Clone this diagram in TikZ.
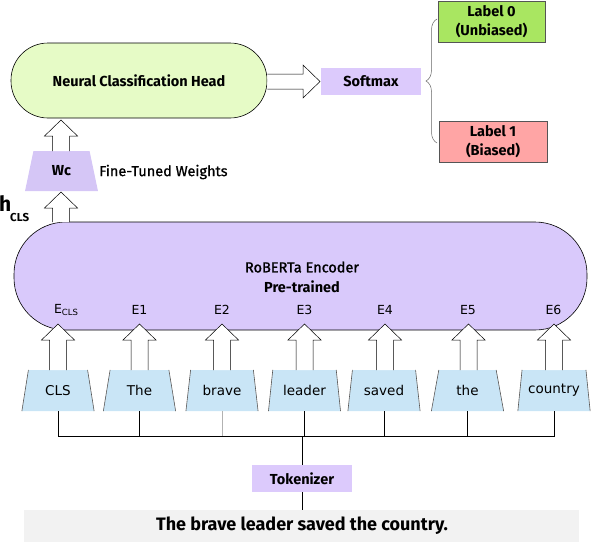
\documentclass[tikz,border=0pt]{standalone}
\usepackage{fontspec}
\setmainfont{Fira Sans}
\newfontfamily\tokfont{DejaVu Sans}
\usetikzlibrary{shapes.geometric,decorations.pathreplacing,calc}
\definecolor{headgreen}{HTML}{E6FBC6}
\definecolor{lav}{HTML}{D9C9FB}
\definecolor{lavb}{HTML}{DCCAFC}
\definecolor{wcl}{HTML}{D5C6F6}
\definecolor{lzero}{HTML}{A9E661}
\definecolor{lone}{HTML}{FFA5A5}
\definecolor{tokblue}{HTML}{C9E5F6}
\definecolor{sentgray}{HTML}{F2F2F2}
\definecolor{edgegray}{HTML}{555555}
\newcommand\myuparrow[3]{%
  \draw[barrow] (#1-8.5,#2) -- (#1-8.5,#3+16) -- (#1-16.5,#3+16) -- (#1,#3) -- (#1+16.5,#3+16) -- (#1+8.5,#3+16) -- (#1+8.5,#2);}
\begin{document}
\begin{tikzpicture}[x=1pt,y=-1pt,
  barrow/.style={draw=black,fill=white,line width=0.5pt,line join=miter},
  tokbox/.style={trapezium,trapezium left angle=74.5,trapezium right angle=74.5,trapezium stretches=true,
     minimum width=72pt,minimum height=41pt,inner sep=0pt,fill=tokblue,font=\tokfont\fontsize{13.5}{15}\selectfont},
  elabel/.style={font=\tokfont\fontsize{12.5}{14}\selectfont,inner sep=0pt},
  boldtxt/.style={font=\bfseries\fontsize{14.5}{16}\selectfont},
  labbox/.style={draw=edgegray,line width=0.6pt,minimum width=107pt,minimum height=41pt,inner sep=0pt,align=center,font=\bfseries\fontsize{14.5}{19.5}\selectfont},
]
\useasboundingbox (0,0) rectangle (592,542);
% sentence and tokenizer
\node[fill=sentgray,minimum width=555pt,minimum height=32pt,inner sep=0pt,anchor=north west] (sentbox) at (24,510) {};
\node[font=\bfseries\fontsize{18}{20}\selectfont] (sent) at (302,526) {The brave leader saved the country.};
\node[fill=lavb,minimum width=100pt,minimum height=27pt,inner sep=0pt,boldtxt] (tokenizer) at (302,478.5) {Tokenizer};
% tokens
\node[tokbox] (t0) at (58,390.5) {CLS};
\node[tokbox] (t1) at (139.5,390.5) {The};
\node[tokbox] (t2) at (222,390.5) {brave};
\node[tokbox] (t3) at (304.5,390.5) {leader};
\node[tokbox] (t4) at (384,390.5) {saved};
\node[tokbox] (t5) at (467.5,390.5) {the};
\node[tokbox] (t6) at (554,390.5) {country};
\foreach \t in {t0,t1,t2,t3,t4,t5,t6}{
  \draw[edgegray,line width=0.6pt] (\t.bottom left corner) -- (\t.top left corner);
  \draw[edgegray,line width=0.6pt] (\t.bottom right corner) -- (\t.top right corner);
}
\coordinate (bus) at (0,436);
\draw[line width=0.6pt] (t0.south) |- (t6.south |- bus) -- (t6.south);
\foreach \t in {t1,t3,t4,t5}{\draw[line width=0.6pt] (\t.south) -- (\t.south |- bus);}
\draw[line width=0.6pt,black!30] (t2.south) -- (t2.south |- bus);
\draw[line width=0.6pt] (tokenizer.north) -- (tokenizer.north |- bus);
\draw[line width=0.6pt] (tokenizer.south) -- (sentbox.north -| tokenizer.south);
% encoder
\node[draw=black,line width=0.6pt,fill=lav,rounded corners=52pt,minimum width=573pt,minimum height=108pt,inner sep=0pt] (enc) at (300.5,276) {};
\node[font=\fontsize{14.5}{16}\selectfont\addfontfeatures{FakeBold=1.5}] (enctitle) at (302,267) {RoBERTa Encoder};
\node[font=\bfseries\fontsize{14.5}{16}\selectfont] (encsub) at (302,287) {Pre-trained};
\node[elabel] (e0) at (66,310) {E\raisebox{-2pt}{\fontsize{8.5}{9}\selectfont CLS}};
\node[elabel] (e1) at (139.5,310) {E1};
\node[elabel] (e2) at (222,310) {E2};
\node[elabel] (e3) at (304.5,310) {E3};
\node[elabel] (e4) at (385,310) {E4};
\node[elabel] (e5) at (468,310) {E5};
\node[elabel] (e6) at (553.5,310) {E6};
\myuparrow{58}{370}{324}
\myuparrow{139.5}{370}{324}
\myuparrow{222}{370}{324}
\myuparrow{304.5}{370}{324}
\myuparrow{385}{370}{324}
\myuparrow{468.5}{370}{324}
\myuparrow{554}{370}{324}
% Wc
\node[trapezium,trapezium left angle=74.5,trapezium right angle=74.5,trapezium stretches=true,
     minimum width=73pt,minimum height=40pt,inner sep=0pt,fill=wcl,boldtxt] (wc) at (61.5,171) {Wc};
\node[anchor=west,inner sep=0pt,font=\fontsize{14.5}{16}\selectfont\addfontfeatures{FakeBold=1}] (ftw) at (99,172) {Fine-Tuned Weights};
\myuparrow{61}{222}{192}
\node[anchor=base west,inner sep=0pt,font=\bfseries\fontsize{21}{22}\selectfont] (h) at (-1,211) {h};
\node[anchor=base west,inner sep=0pt,font=\bfseries\fontsize{11.5}{12}\selectfont] (hcls) at (10,221.5) {CLS};
% head
\node[draw=black,line width=0.6pt,fill=headgreen,rounded corners=37pt,minimum width=256pt,minimum height=75pt,inner sep=0pt,boldtxt] (head) at (139,80.5) {Neural Classification Head};
\myuparrow{61}{151}{120}
% right arrow
\draw[barrow] (head.east |- 0,74) -- (303,74) -- (303,65) -- (320,81.5) -- (303,98) -- (303,89) -- (head.east |- 0,89);
\node[fill=lavb,minimum width=100pt,minimum height=27pt,inner sep=0pt,boldtxt] (softmax) at (371,81.5) {Softmax};
\draw[decorate,decoration={brace,amplitude=11pt},black!60,line width=0.5pt] (437,143) -- (437,19);
\node[labbox,fill=lzero] (l0) at (491.5,21.5) {Label 0\\(Unbiased)};
\node[labbox,fill=lone,minimum width=108pt] (l1) at (493,141.5) {Label 1\\(Biased)};
\end{tikzpicture}
\end{document}
